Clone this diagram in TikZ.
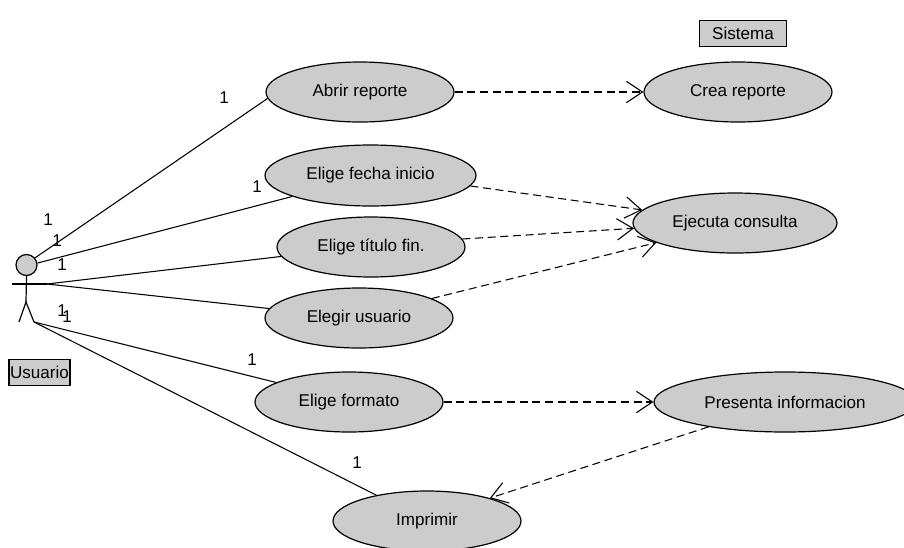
\documentclass[tikz,border=0pt]{standalone}
\usepackage{fontspec}
\setmainfont{Liberation Sans}
\usetikzlibrary{shapes.geometric, arrows.meta}
\definecolor{casegray}{HTML}{CCCCCC}

\begin{document}
\begin{tikzpicture}[x=0.75pt, y=-0.75pt, line width=0.9pt, font=\fontsize{12.8}{15}\selectfont,
    >={Straight Barb[length=12pt, width=16pt]},
    usecase/.style={ellipse, draw, fill=casegray, inner sep=0pt, minimum width=141pt, minimum height=45pt},
    tagbox/.style={rectangle, draw, fill=casegray, inner sep=0pt},
    mult/.style={inner sep=0pt},
    assoc/.style={line width=0.8pt},
    dep/.style={->, line width=0.8pt, dash pattern=on 6pt off 3.5pt}]
    \useasboundingbox (0,0) rectangle (904,547);

    % Draw the labels of the actor and the system
    \node[tagbox, minimum width=65pt, minimum height=20pt] (sistema) at (743,33.5) {Sistema};
    \node[tagbox, minimum width=45.75pt, minimum height=20pt] (usuario) at (39.5,372.5) {Usuario};

    % Draw the actor
    \node[circle, draw, fill=casegray, inner sep=0pt, minimum size=15.75pt] (head) at (26.5,265) {};
    \coordinate (hip) at (26,302);
    \coordinate (armL) at (12,284);
    \coordinate (armR) at (47,284);
    \coordinate (footL) at (19,322);
    \coordinate (footR) at (34,322);
    \draw (head.south) -- (hip);
    \draw (armL) -- (armR);
    \draw (footL) -- (hip) -- (footR);

    % Draw the use cases of the actor
    \node[usecase] (abrir) at (360,92) {Abrir reporte};
    \node[usecase, minimum width=158.25pt, minimum height=45.75pt] (fecha) at (370.5,175.5) {Elige fecha inicio};
    \node[usecase] (titulo) at (371,247) {Elige título fin.};
    \node[usecase] (elegir) at (359,318) {Elegir usuario};
    \node[usecase] (formato) at (349,402) {Elige formato};
    \node[usecase] (imprimir) at (427,521) {Imprimir};

    % Draw the use cases of the system
    \node[usecase] (crea) at (738,92) {Crea reporte};
    \node[usecase, minimum width=153pt] (ejecuta) at (735,223) {Ejecuta consulta};
    \node[usecase, minimum width=196.5pt] (presenta) at (785,402) {Presenta informacion};

    % Draw the associations
    \draw[assoc] (head.40) -- (abrir.184);
    \draw[assoc] (head.10) -- (fecha.195);
    \draw[assoc] (armR) -- (titulo.186);
    \draw[assoc] (armR) -- (elegir.174);
    \draw[assoc] (footR) -- (formato.165);
    \draw[assoc] (footR) -- (imprimir.153);

    % Draw the dependencies
    \draw[dep] (abrir.east) -- (crea.west);
    \draw[dep] (fecha.-6) -- (ejecuta.172);
    \draw[dep] (titulo.5) -- (ejecuta.183);
    \draw[dep] (elegir.15) -- (ejecuta.194);
    \draw[dep] (formato.east) -- (presenta.west);
    \draw[dep] (presenta.198) -- (imprimir.20);

    % Multiplicities
    \node[mult] (m1) at (224,98) {1};
    \node[mult] (m2) at (257,187) {1};
    \node[mult] (m3) at (48,220) {1};
    \node[mult] (m4) at (57,241) {1};
    \node[mult] (m5) at (62,265) {1};
    \node[mult] (m6) at (62,311) {1};
    \node[mult] (m7) at (67,317) {1};
    \node[mult] (m8) at (252,360) {1};
    \node[mult] (m9) at (357,463) {1};
\end{tikzpicture}
\end{document}
